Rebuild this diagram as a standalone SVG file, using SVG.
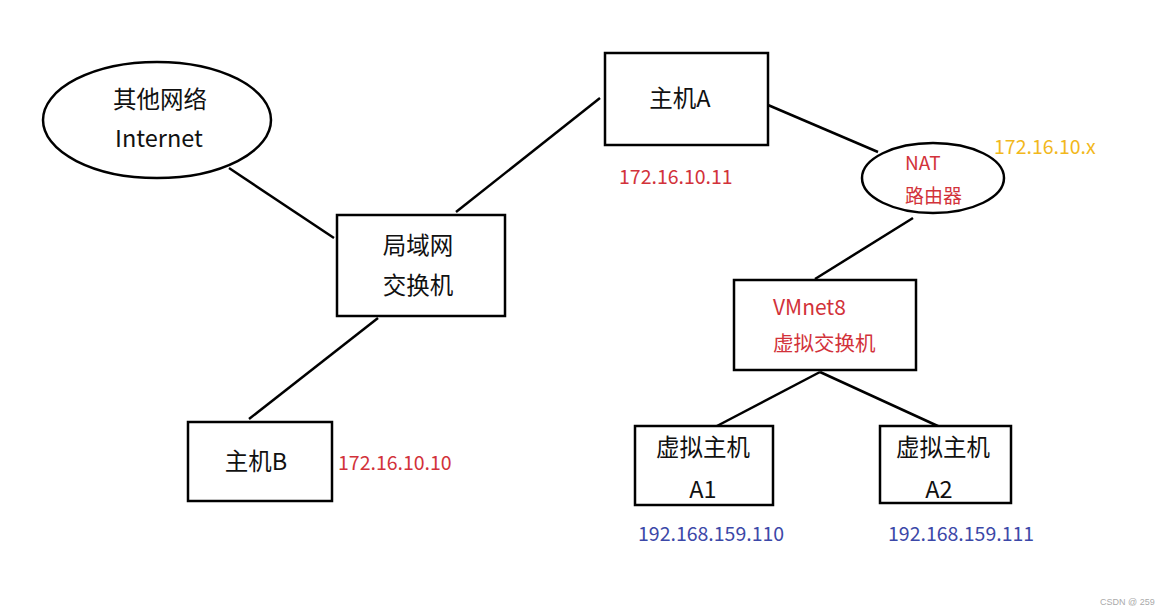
<svg xmlns="http://www.w3.org/2000/svg" width="1174" height="614" viewBox="0 0 1174 614">
<style>
.shape{fill:#fff;stroke:#000;stroke-width:2.5}
.conn line{stroke:#000;stroke-width:2.5}
.t{font-family:"Microsoft YaHei","Noto Sans CJK SC","Noto Sans",sans-serif;font-size:23.5px;fill:#111}
.r{font-family:"Microsoft YaHei","Noto Sans CJK SC","Noto Sans",sans-serif;font-size:19px;fill:#d2323a}
.ip{font-family:"Microsoft YaHei","Noto Sans CJK SC","Noto Sans",sans-serif;font-size:19.5px}
</style>
<rect width="1174" height="614" fill="#fff"/>
<g id="connectors" class="conn">
<line x1="229" y1="168" x2="334" y2="238"/>
<line x1="456" y1="212" x2="600" y2="98"/>
<line x1="768" y1="105" x2="878" y2="152"/>
<line x1="913" y1="218" x2="815" y2="279"/>
<line x1="378" y1="318" x2="249" y2="419"/>
<line x1="820" y1="372" x2="715" y2="427"/>
<line x1="820" y1="372" x2="940" y2="427"/>
</g>
<g id="internet">
<ellipse class="shape" cx="157" cy="120" rx="114" ry="58"/>
<text class="t" x="160" y="108" text-anchor="middle">其他网络</text>
<text class="t" x="159" y="147" text-anchor="middle">Internet</text>
</g>
<g id="lan-switch">
<rect class="shape" x="337" y="215" width="168" height="101"/>
<text class="t" x="418" y="254" text-anchor="middle">局域网</text>
<text class="t" x="418" y="294" text-anchor="middle">交换机</text>
</g>
<g id="host-a">
<rect class="shape" x="605" y="53" width="163" height="92"/>
<text class="t" x="680" y="107" text-anchor="middle">主机A</text>
<text class="ip" x="619" y="184" fill="#d2323a">172.16.10.11</text>
</g>
<g id="nat">
<ellipse class="shape" cx="933" cy="178" rx="71" ry="35"/>
<text class="r" x="905" y="170">NAT</text>
<text class="r" x="905" y="203">路由器</text>
<text class="ip" x="994" y="154" fill="#f2b81c">172.16.10.x</text>
</g>
<g id="vmnet8">
<rect class="shape" x="734" y="280" width="182" height="90"/>
<text class="r" x="773" y="315" style="font-size:21px">VMnet8</text>
<text class="r" x="773" y="351" style="font-size:20.5px">虚拟交换机</text>
</g>
<g id="host-b">
<rect class="shape" x="188" y="422" width="144" height="79"/>
<text class="t" x="256" y="470" text-anchor="middle">主机B</text>
<text class="ip" x="338" y="470" fill="#d2323a">172.16.10.10</text>
</g>
<g id="vhost-a1">
<rect class="shape" x="635" y="426" width="138" height="79"/>
<text class="t" x="703" y="456" text-anchor="middle">虚拟主机</text>
<text class="t" x="703" y="498" text-anchor="middle">A1</text>
<text class="ip" x="638" y="541" fill="#3c48a8">192.168.159.110</text>
</g>
<g id="vhost-a2">
<rect class="shape" x="880" y="426" width="131" height="77"/>
<text class="t" x="943" y="456" text-anchor="middle">虚拟主机</text>
<text class="t" x="939" y="498" text-anchor="middle">A2</text>
<text class="ip" x="888" y="541" fill="#3c48a8">192.168.159.111</text>
</g>
<text x="1100" y="605" font-family="'Liberation Sans',sans-serif" font-size="9" fill="#aaa">CSDN @ 259</text>
</svg>
